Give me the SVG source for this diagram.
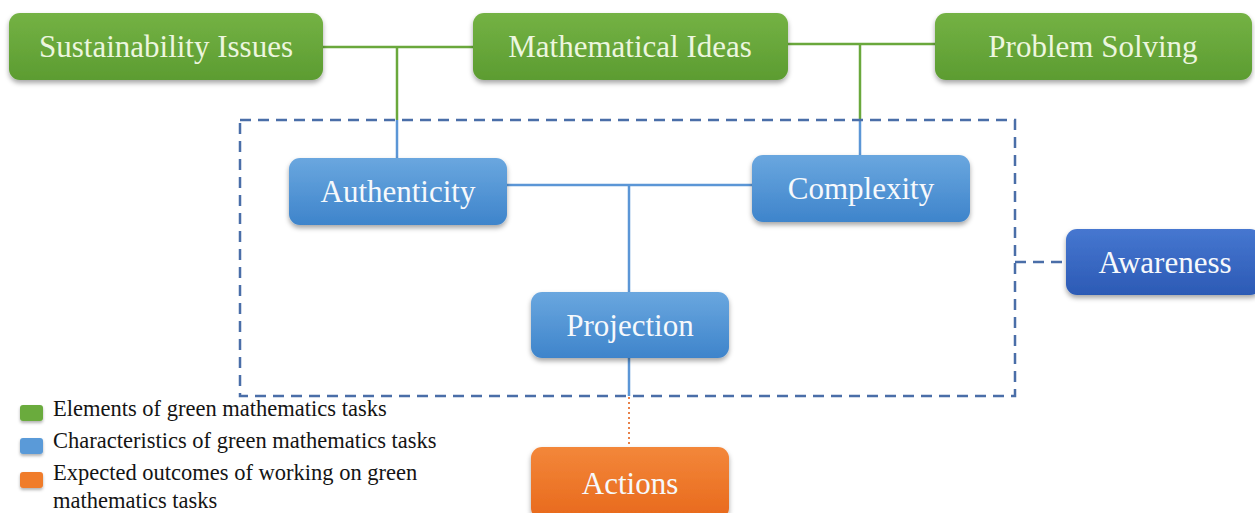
<svg xmlns="http://www.w3.org/2000/svg" width="1255" height="513" viewBox="0 0 1255 513">
<defs>
<linearGradient id="gGreen" x1="0" y1="0" x2="0" y2="1"><stop offset="0" stop-color="#74b244"/><stop offset="1" stop-color="#5c9c31"/></linearGradient>
<linearGradient id="gBlue" x1="0" y1="0" x2="0" y2="1"><stop offset="0" stop-color="#6aa7df"/><stop offset="1" stop-color="#3e84cb"/></linearGradient>
<linearGradient id="gDark" x1="0" y1="0" x2="0" y2="1"><stop offset="0" stop-color="#4677d0"/><stop offset="1" stop-color="#2c5ab5"/></linearGradient>
<linearGradient id="gOrange" x1="0" y1="0" x2="0" y2="1"><stop offset="0" stop-color="#f3873a"/><stop offset="1" stop-color="#e8691c"/></linearGradient>
<filter id="sh" x="-10%" y="-20%" width="120%" height="150%"><feDropShadow dx="0" dy="3" stdDeviation="2.5" flood-color="#000" flood-opacity="0.35"/></filter>
<filter id="shs" x="-50%" y="-50%" width="200%" height="200%"><feDropShadow dx="0" dy="2" stdDeviation="1.5" flood-color="#000" flood-opacity="0.3"/></filter>
</defs>
<style>
.lbl{font-family:"Liberation Serif","Times New Roman",serif;font-size:31px;text-anchor:middle;fill:#f6f9fc}
.lg{fill:#ecf6df}
.leg{font-family:"Liberation Serif","Times New Roman",serif;font-size:22.5px;fill:#141414}
.gl{stroke:#6aa83c;stroke-width:2.5;fill:none}
.bl{stroke:#5b96d6;stroke-width:2.5;fill:none}
.dash{stroke:#4a6ea8;stroke-width:2.5;fill:none;stroke-dasharray:11 7}
.dot{stroke:#e8824a;stroke-width:2;fill:none;stroke-dasharray:2 3}
</style>
<rect width="1255" height="513" fill="#ffffff"/>
<g id="connectors">
<path class="gl" d="M323 47 H473"/>
<path class="gl" d="M788 44 H935"/>
<path class="gl" d="M397 47 V120"/>
<path class="bl" d="M397 120 V158"/>
<path class="gl" d="M860 44 V120"/>
<path class="bl" d="M860 120 V155"/>
<path class="bl" d="M507 185 H752"/>
<path class="bl" d="M629 185 V292"/>
<path class="bl" d="M629 358 V396"/>
<path class="dot" d="M629 397 V447"/>
<rect class="dash" x="240" y="120" width="775" height="276"/>
<path class="dash" d="M1015 262 H1066"/>
</g>
<g id="sustainability"><rect x="9" y="13" width="314" height="67" rx="11" fill="url(#gGreen)" filter="url(#sh)"/><text class="lbl lg" x="166" y="57">Sustainability Issues</text></g>
<g id="mathematical"><rect x="473" y="13" width="315" height="67" rx="11" fill="url(#gGreen)" filter="url(#sh)"/><text class="lbl lg" x="630" y="57">Mathematical Ideas</text></g>
<g id="problem"><rect x="935" y="13" width="317" height="67" rx="11" fill="url(#gGreen)" filter="url(#sh)"/><text class="lbl lg" x="1093" y="57">Problem Solving</text></g>
<g id="authenticity"><rect x="289" y="158" width="218" height="67" rx="11" fill="url(#gBlue)" filter="url(#sh)"/><text class="lbl" x="398" y="202">Authenticity</text></g>
<g id="complexity"><rect x="752" y="155" width="218" height="67" rx="11" fill="url(#gBlue)" filter="url(#sh)"/><text class="lbl" x="861" y="199">Complexity</text></g>
<g id="projection"><rect x="531" y="292" width="198" height="66" rx="11" fill="url(#gBlue)" filter="url(#sh)"/><text class="lbl" x="630" y="336">Projection</text></g>
<g id="awareness"><rect x="1066" y="229" width="195" height="66" rx="11" fill="url(#gDark)" filter="url(#sh)"/><text class="lbl" x="1165" y="273">Awareness</text></g>
<g id="actions"><rect x="531" y="447" width="198" height="72" rx="11" fill="url(#gOrange)" filter="url(#sh)"/><text class="lbl" x="630" y="494">Actions</text></g>
<g id="legend">
<rect x="20" y="405" width="23" height="16" rx="3" fill="#6aab3e" filter="url(#shs)"/>
<rect x="20" y="438" width="23" height="16" rx="3" fill="#5a9ad8" filter="url(#shs)"/>
<rect x="20" y="472" width="23" height="16" rx="3" fill="#f07c2c" filter="url(#shs)"/>
<text class="leg" x="53" y="416">Elements of green mathematics tasks</text>
<text class="leg" x="53" y="448">Characteristics of green mathematics tasks</text>
<text class="leg" x="53" y="480">Expected outcomes of working on green</text>
<text class="leg" x="53" y="508">mathematics tasks</text>
</g>
</svg>
